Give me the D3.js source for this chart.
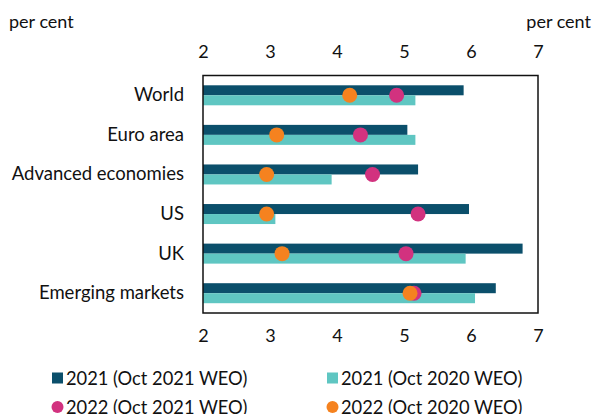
<!DOCTYPE html>
<html>
<head>
<meta charset="UTF-8">
<title>Growth forecasts</title>
<script src="https://cdn.jsdelivr.net/npm/d3@7"></script>
<style>
  body { margin: 0; background: #fff; }
  svg text { font-family: Lato, "DejaVu Sans", sans-serif; fill: #111; }
</style>
</head>
<body>
<div id="chart"></div>
<script>
// data
var categories = ["World", "Euro area", "Advanced economies", "US", "UK", "Emerging markets"];
var oct21_2021 = [5.89, 5.05, 5.21, 5.97, 6.77, 6.37];
var oct20_2021 = [5.17, 5.17, 3.92, 3.08, 5.92, 6.06];
var oct21_2022 = [4.89, 4.35, 4.53, 5.21, 5.03, 5.15];
var oct20_2022 = [4.19, 3.10, 2.95, 2.95, 3.18, 5.09];
var xTicks = [2, 3, 4, 5, 6, 7];

var W = 595, H = 414;
var plotL = 203, plotR = 538, plotT = 75.5, plotB = 313;
var fs = "18px";

var svg = d3.select("#chart").append("svg")
    .attr("width", W).attr("height", H);

var x = d3.scaleLinear().domain([2, 7]).range([plotL, plotR]);
var y = d3.scaleBand().domain(categories).range([plotT, plotB]);
var barH = 10;

// bars
var g = svg.append("g");
g.selectAll("rect.dark").data(categories).enter().append("rect")
    .attr("class", "dark")
    .attr("x", x(2))
    .attr("y", function(d){ return y(d) + y.bandwidth() / 2 - barH; })
    .attr("width", function(d, i){ return x(oct21_2021[i]) - x(2); })
    .attr("height", barH)
    .attr("fill", "#0b4f6b");
g.selectAll("rect.light").data(categories).enter().append("rect")
    .attr("class", "light")
    .attr("x", x(2))
    .attr("y", function(d){ return y(d) + y.bandwidth() / 2; })
    .attr("width", function(d, i){ return x(oct20_2021[i]) - x(2); })
    .attr("height", barH)
    .attr("fill", "#5fc6c2");

// dots
g.selectAll("circle.mag").data(categories).enter().append("circle")
    .attr("cx", function(d, i){ return x(oct21_2022[i]); })
    .attr("cy", function(d){ return y(d) + y.bandwidth() / 2; })
    .attr("r", 7.5)
    .attr("fill", "#d2327f");
g.selectAll("circle.org").data(categories).enter().append("circle")
    .attr("cx", function(d, i){ return x(oct20_2022[i]); })
    .attr("cy", function(d){ return y(d) + y.bandwidth() / 2; })
    .attr("r", 7.5)
    .attr("fill", "#f5821f");

// frame
svg.append("rect")
    .attr("x", plotL).attr("y", plotT)
    .attr("width", plotR - plotL).attr("height", plotB - plotT)
    .attr("fill", "none").attr("stroke", "#111").attr("stroke-width", 1.5);

// axes (labels only)
var topAxis = d3.axisTop(x).tickValues(xTicks).tickFormat(d3.format("d")).tickSize(0).tickPadding(18);
var botAxis = d3.axisBottom(x).tickValues(xTicks).tickFormat(d3.format("d")).tickSize(0).tickPadding(16);
svg.append("g").attr("transform", "translate(0," + plotT + ")").call(topAxis)
    .call(function(s){ s.select(".domain").remove(); });
svg.append("g").attr("transform", "translate(0," + plotB + ")").call(botAxis)
    .call(function(s){ s.select(".domain").remove(); });
svg.selectAll(".tick text").style("font-size", fs).attr("fill", "#111")
    .style("font-family", "Lato, sans-serif");

// category labels
svg.selectAll("text.cat").data(categories).enter().append("text")
    .attr("class", "cat")
    .attr("x", 184)
    .attr("y", function(d){ return y(d) + y.bandwidth() / 2 + 6; })
    .attr("text-anchor", "end")
    .style("font-size", "18.5px")
    .text(function(d){ return d; });

// units
svg.append("text").attr("x", 9).attr("y", 28).style("font-size", fs).text("per cent");
svg.append("text").attr("x", 591).attr("y", 28).attr("text-anchor", "end")
    .style("font-size", fs).text("per cent");

// legend
var legend = [
  {label: "2021 (Oct 2021 WEO)", color: "#0b4f6b", type: "sq", x: 52, y: 378},
  {label: "2021 (Oct 2020 WEO)", color: "#5fc6c2", type: "sq", x: 327, y: 378},
  {label: "2022 (Oct 2021 WEO)", color: "#d2327f", type: "dot", x: 52, y: 407},
  {label: "2022 (Oct 2020 WEO)", color: "#f5821f", type: "dot", x: 327, y: 407}
];
var lg = svg.selectAll("g.leg").data(legend).enter().append("g")
    .attr("transform", function(d){ return "translate(" + d.x + "," + d.y + ")"; });
lg.filter(function(d){ return d.type === "sq"; }).append("rect")
    .attr("x", 0).attr("y", -5.5).attr("width", 11).attr("height", 11)
    .attr("fill", function(d){ return d.color; });
lg.filter(function(d){ return d.type === "dot"; }).append("circle")
    .attr("cx", 5.5).attr("cy", 0).attr("r", 6)
    .attr("fill", function(d){ return d.color; });
lg.append("text").attr("x", 14).attr("y", 6.5)
    .style("font-size", "18.3px")
    .text(function(d){ return d.label; });
</script>
</body>
</html>
